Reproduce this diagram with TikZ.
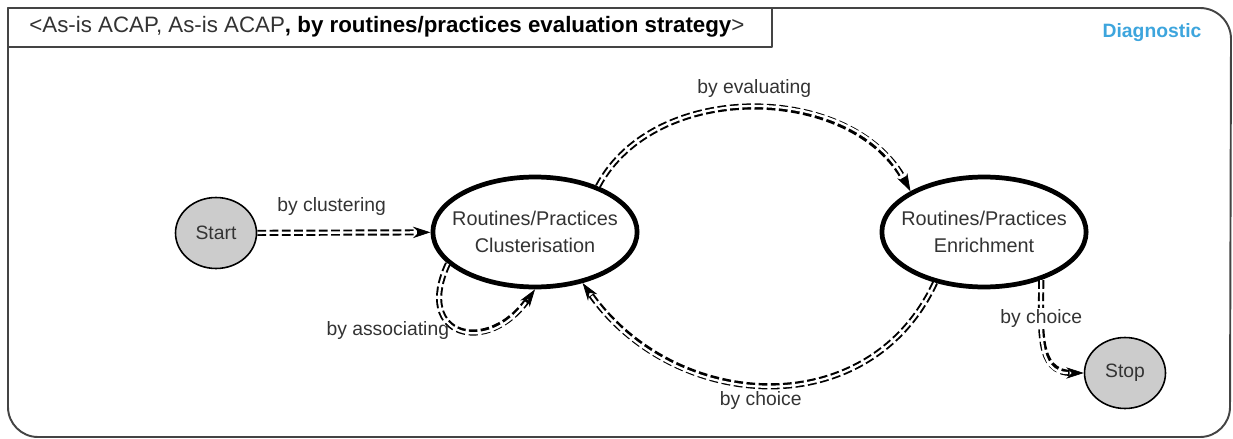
\documentclass[tikz,border=0pt]{standalone}
\usepackage{fontspec}
\setmainfont{Liberation Sans}
\usetikzlibrary{arrows.meta, shapes.geometric}

\definecolor{txtgray}{HTML}{333333}
\definecolor{framegray}{HTML}{444444}
\definecolor{diagblue}{HTML}{3DA5DD}
\definecolor{stategray}{HTML}{CCCCCC}

\begin{document}
\begin{tikzpicture}[
  x=0.02cm,y=-0.02cm,
  line cap=round,
  line join=round,
  endstate/.style={ellipse,draw=black,fill=stategray,line width=0.9pt,
    minimum width=1.62cm,minimum height=1.42cm,inner sep=0pt,
    font=\fontsize{11}{13}\selectfont,text=txtgray},
  intention/.style={ellipse,draw=black,fill=white,line width=2.7pt,
    minimum width=4.08cm,minimum height=2.2cm,inner xsep=-6pt,inner ysep=0pt,
    align=center,font=\fontsize{11.3}{15}\selectfont,text=txtgray},
  flow/.style={draw=black,line width=3.5pt,line cap=butt,
    dash pattern=on 5pt off 2pt,
    -{Stealth[length=10pt,width=6.5pt,line width=0.4pt]},
    postaction={draw=white,solid,line width=1.3pt,-,shorten >=9pt}},
  lbl/.style={font=\fontsize{11}{13}\selectfont,text=txtgray,inner sep=1pt}
]
  \useasboundingbox (0,0) rectangle (1233,439);

  % Map frame and title
  \draw[framegray,line width=1.1pt]
    (8,8) -- (1200,8) arc[start angle=90,end angle=0,radius=0.62cm]
    -- (1230,407) arc[start angle=0,end angle=-90,radius=0.6cm]
    -- (38,437) arc[start angle=270,end angle=180,radius=0.6cm] -- cycle;
  \draw[framegray,line width=1pt] (8,8) rectangle (772,47);
  \node[anchor=west,font=\fontsize{12.7}{14}\selectfont,text=txtgray,inner sep=0pt]
    (title) at (29,27)
    {<As-is ACAP, As-is ACAP\textcolor{black}{\bfseries, by routines/practices evaluation strategy}>};
  \node[font=\fontsize{11}{13}\selectfont\bfseries,text=diagblue] (diag) at (1152,33) {Diagnostic};

  % Intentions
  \node[endstate] (start) at (216,233) {Start};
  \node[intention] (clus) at (535,232) {Routines/Practices\\Clusterisation};
  \node[intention] (enr) at (984,232) {Routines/Practices\\Enrichment};
  \node[endstate] (stop) at (1125,373) {Stop};

  % Strategies
  \draw[flow] (start) -- node[lbl,above=7pt,xshift=-7pt] (s1) {by clustering} (clus);
  \draw[flow] (clus.36) to[out=62,in=118]
    node[lbl,above=3pt] (s2) {by evaluating} (enr.151);
  \draw[flow] (enr.226) to[out=-115,in=-55,looseness=1.15]
    node[lbl,below=1pt,xshift=-4pt] (s3) {by choice} (clus.313);
  \draw[flow] (clus.200) to[out=245,in=235,looseness=2.3]
    node[lbl,pos=0.42,left=-1pt,yshift=-3pt] (s4) {by associating} (clus.270);
  \draw[flow] (enr.-40) to[out=-90,in=180,looseness=1.2]
    node[lbl,pos=0.28,fill=white] (s5) {by choice} (stop.west);
\end{tikzpicture}
\end{document}
